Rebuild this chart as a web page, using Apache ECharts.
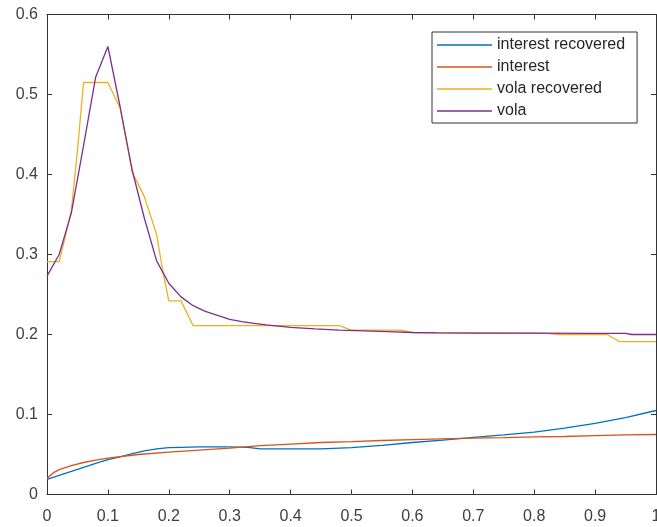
<!DOCTYPE html>
<html>
<head>
<meta charset="utf-8">
<script src="https://cdn.jsdelivr.net/npm/echarts@6/dist/echarts.min.js"></script>
<style>
html,body{margin:0;padding:0;background:#fff;}
#chart{width:657px;height:527px;}
</style>
</head>
<body>
<div id="chart"></div>
<script>
// ---- data ----
var seriesNames = ['interest recovered', 'interest', 'vola recovered', 'vola'];

var intRecX = [0,0.02,0.04,0.06,0.08,0.10,0.12,0.14,0.16,0.18,0.20,0.22,0.25,0.30,0.33,0.35,0.40,0.45,0.50,0.55,0.60,0.65,0.70,0.75,0.80,0.85,0.90,0.95,1.0];
var intRecY = [0.019,0.024,0.029,0.034,0.039,0.0435,0.047,0.051,0.0545,0.057,0.0585,0.059,0.0595,0.0595,0.059,0.057,0.057,0.057,0.0585,0.0615,0.065,0.068,0.0715,0.0745,0.078,0.083,0.089,0.096,0.105];

var intX = [0,0.01,0.02,0.04,0.06,0.08,0.10,0.15,0.20,0.25,0.30,0.35,0.40,0.45,0.50,0.55,0.60,0.65,0.70,0.75,0.80,0.85,0.90,0.95,1.0];
var intY = [0.020,0.027,0.031,0.036,0.040,0.043,0.0455,0.050,0.053,0.0555,0.058,0.061,0.063,0.065,0.066,0.0675,0.0685,0.0695,0.0705,0.071,0.072,0.0725,0.0735,0.0745,0.075];

var volaRecX = [0,0.02,0.03,0.04,0.05,0.06,0.08,0.10,0.12,0.14,0.16,0.18,0.19,0.20,0.22,0.24,0.48,0.50,0.58,0.60,0.82,0.84,0.92,0.94,1.0];
var volaRecY = [0.291,0.291,0.322,0.355,0.43,0.515,0.515,0.515,0.483,0.403,0.372,0.325,0.28,0.242,0.242,0.211,0.211,0.2055,0.2055,0.2025,0.2015,0.2,0.2,0.191,0.191];

var volaX = [0,0.02,0.04,0.06,0.08,0.10,0.12,0.14,0.16,0.18,0.20,0.22,0.24,0.26,0.28,0.30,0.32,0.34,0.36,0.38,0.40,0.44,0.48,0.52,0.56,0.60,0.64,0.70,0.80,0.90,0.95,0.96,1.0];
var volaY = [0.273,0.300,0.352,0.436,0.522,0.560,0.485,0.405,0.345,0.292,0.264,0.247,0.236,0.229,0.224,0.219,0.216,0.214,0.212,0.2105,0.209,0.207,0.2055,0.2045,0.2035,0.2025,0.202,0.2018,0.2016,0.2015,0.2015,0.2,0.2];

var xTicks = {min: 0, max: 1, interval: 0.1};
var yTicks = {min: 0, max: 0.6, interval: 0.1};

var colors = ['#0072BD', '#D95319', '#EDB120', '#7E2F8E'];

function pairs(xs, ys) {
  return xs.map(function (x, i) { return [x, ys[i]]; });
}

var allX = [intRecX, intX, volaRecX, volaX];
var allY = [intRecY, intY, volaRecY, volaY];

var FONT = 'Liberation Sans, Arial, sans-serif';
var FS = 16;
var axisColor = '#333333';

function axisCommon(extra) {
  var base = {
    type: 'value',
    axisLine: {show: true, onZero: false, lineStyle: {color: axisColor, width: 1}},
    axisTick: {show: true, inside: true, length: 5, lineStyle: {color: axisColor}},
    splitLine: {show: false},
    axisLabel: {show: true, color: '#404040', fontFamily: FONT, fontSize: FS}
  };
  for (var k in extra) base[k] = extra[k];
  return base;
}

var chart = echarts.init(document.getElementById('chart'), null, {renderer: 'canvas'});

var option = {
  animation: false,
  backgroundColor: '#ffffff',
  color: colors,
  grid: {left: 47, right: 1, top: 14.5, bottom: 32.5, containLabel: false, outerBoundsMode: 'none'},
  xAxis: [
    axisCommon({position: 'bottom', min: xTicks.min, max: xTicks.max, interval: xTicks.interval,
      axisLabel: {show: true, color: '#404040', fontFamily: FONT, fontSize: FS, margin: 14}}),
    axisCommon({position: 'top', min: xTicks.min, max: xTicks.max, interval: xTicks.interval,
      axisLabel: {show: false}})
  ],
  yAxis: [
    axisCommon({position: 'left', min: yTicks.min, max: yTicks.max, interval: yTicks.interval,
      axisLabel: {show: true, color: '#404040', fontFamily: FONT, fontSize: FS, margin: 9}}),
    axisCommon({position: 'right', min: yTicks.min, max: yTicks.max, interval: yTicks.interval,
      axisLabel: {show: false}})
  ],
  legend: {
    orient: 'vertical',
    left: 432,
    top: 32,
    padding: [5, 12, 4, 5],
    icon: 'path://M0,0 L55,0 L55,1.5 L0,1.5 Z',
    itemWidth: 55,
    itemHeight: 1.5,
    itemGap: 6,
    borderColor: '#333333',
    borderWidth: 1,
    borderRadius: 0,
    backgroundColor: '#ffffff',
    textStyle: {fontFamily: FONT, fontSize: FS, lineHeight: 16, color: '#262626'},
    data: seriesNames
  },
  series: seriesNames.map(function (name, i) {
    return {
      name: name,
      type: 'line',
      xAxisIndex: 0,
      yAxisIndex: 0,
      data: pairs(allX[i], allY[i]),
      symbol: 'none',
      showSymbol: false,
      smooth: false,
      lineStyle: {width: 1.3, color: colors[i]},
      itemStyle: {color: colors[i]}
    };
  })
};

chart.setOption(option);
</script>
</body>
</html>
